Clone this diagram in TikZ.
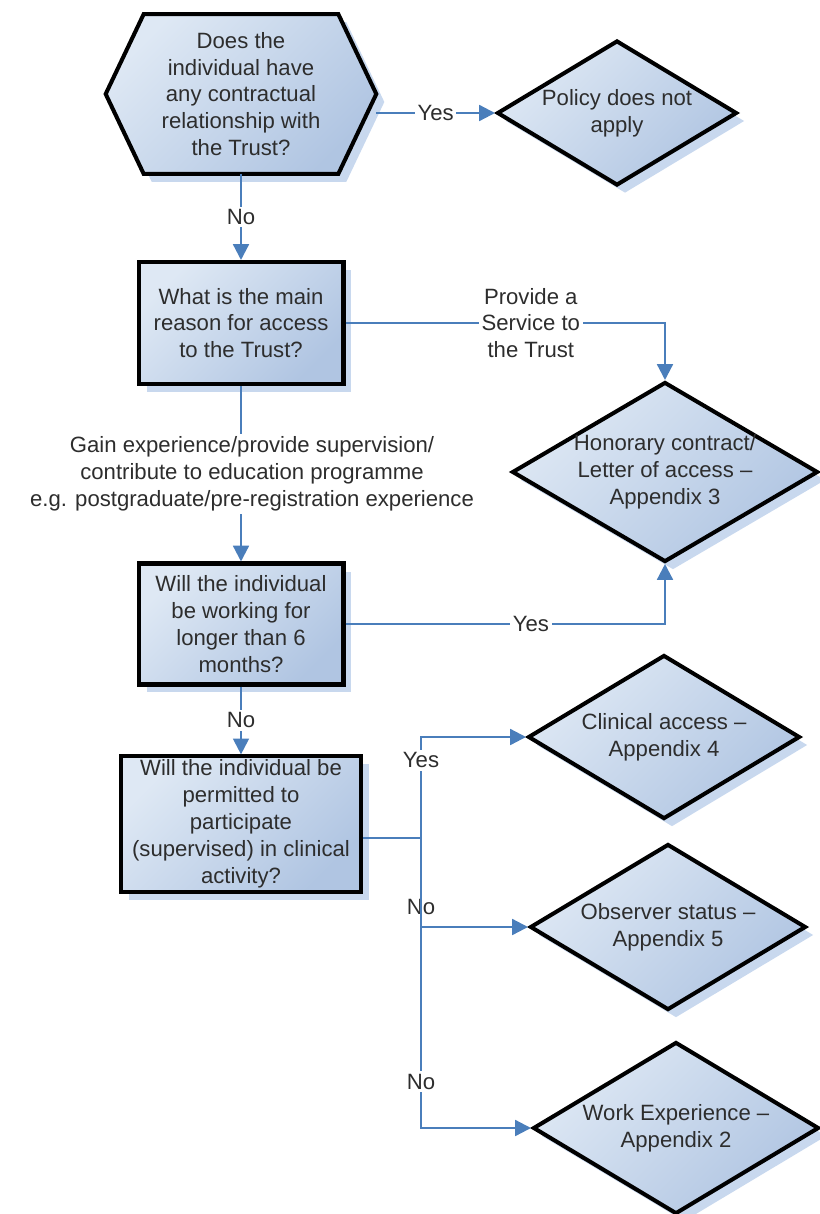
\documentclass[tikz,border=0pt]{standalone}
\usepackage{fontspec}
\setmainfont{Liberation Sans}
\usetikzlibrary{arrows.meta,shapes.geometric,shadows,backgrounds}

\definecolor{flowlight}{RGB}{222,232,244}
\definecolor{flowdark}{RGB}{176,197,226}
\definecolor{shadowblue}{RGB}{200,216,238}
\definecolor{linkblue}{RGB}{74,126,187}
\definecolor{textgray}{RGB}{45,45,45}

\begin{document}
\begin{tikzpicture}[x=0.02cm, y=-0.02cm,
		font=\fontsize{12.6}{15.3}\selectfont, text=textgray,
		boxline/.style={draw=black, line width=2.3pt, line join=miter},
		shade/.style={left color=flowlight, right color=flowdark, shading angle=45},
		shade drop/.style={drop shadow={shadow xshift=0.16cm, shadow yshift=-0.16cm, fill=shadowblue, opacity=1}},
		question/.style={rectangle, boxline, shade, shade drop, align=center, inner sep=2pt},
		outcome/.style={diamond, boxline, shade, shade drop, inner sep=0pt},
		said/.style={align=center, text=textgray},
		link/.style={draw=linkblue, line width=1.3pt},
		arrow/.style={link, -{Triangle[length=9pt,width=9pt]}},
		answer/.style={fill=white, inner sep=1.5pt, align=center}]
		
		\useasboundingbox (0,0) rectangle (819,1214);
		
		% 1. Contract question (hexagon, drawn behind its text)
		\node[align=center, minimum width=5.4cm, minimum height=3.18cm] (hex) at (241,94)
			{Does the\\individual have\\any contractual\\relationship with\\the Trust?};
		\begin{pgfonlayer}{background}
			\begin{scope}[transform canvas={xshift=0.16cm, yshift=-0.16cm}]
				\fill[shadowblue] (hex.west) -- ([xshift=0.76cm]hex.north west) -- ([xshift=-0.76cm]hex.north east)
					-- (hex.east) -- ([xshift=-0.76cm]hex.south east) -- ([xshift=0.76cm]hex.south west) -- cycle;
			\end{scope}
			\draw[boxline, shade] (hex.west) -- ([xshift=0.76cm]hex.north west) -- ([xshift=-0.76cm]hex.north east)
				-- (hex.east) -- ([xshift=-0.76cm]hex.south east) -- ([xshift=0.76cm]hex.south west) -- cycle;
		\end{pgfonlayer}
		
		% 2. Questions (boxes)
		\node[question, minimum width=4.1cm, minimum height=2.44cm] (reason) at (241,323)
			{What is the main\\reason for access\\to the Trust?};
		\node[question, minimum width=4.1cm, minimum height=2.42cm] (months) at (241,624)
			{Will the individual\\be working for\\longer than 6\\months?};
		\node[question, minimum width=4.8cm, minimum height=2.44cm] (clin) at (241,824)
			{Will the individual be\\permitted to\\participate\\(supervised) in clinical\\activity?};
		
		% 3. Outcomes (diamonds, text as centre label)
		\node[outcome, minimum width=4.8cm, minimum height=2.9cm,
			label={[said]center:Policy does not\\apply}] (policy) at (617,113) {};
		\node[outcome, minimum width=6.12cm, minimum height=3.6cm,
			label={[said]center:Honorary contract/\\Letter of access --\\Appendix 3}] (honor) at (665,472) {};
		\node[outcome, minimum width=5.44cm, minimum height=3.28cm,
			label={[said]center:Clinical access --\\Appendix 4}] (access) at (664,737) {};
		\node[outcome, minimum width=5.52cm, minimum height=3.32cm,
			label={[said]center:Observer status --\\Appendix 5}] (observer) at (668,927) {};
		\node[outcome, minimum width=5.72cm, minimum height=3.44cm,
			label={[said]center:Work Experience --\\Appendix 2}] (work) at (676,1128) {};
		
		% 4. Connectors
		\coordinate (split) at (421,838);
		\draw[arrow] (policy.west -| hex.east) -- node[answer] {Yes} (policy.west);
		\draw[arrow] (hex.south) -- node[answer] {No} (reason.north);
		\draw[arrow] (reason.east) -| node[answer, pos=0.29] {Provide a\\Service to\\the Trust} (honor.north);
		\draw[arrow] (reason.south) -- node[answer, xshift=0.22cm]
			{Gain experience/provide supervision/\\contribute to education programme\\e.g. postgraduate/pre-registration experience} (months.north);
		\draw[arrow] (months.east) -| node[answer, pos=0.29] {Yes} (honor.south);
		\draw[arrow] (months.south) -- node[answer] {No} (clin.north);
		\draw[link] (clin.east |- split) -- (split);
		\draw[arrow] (split) |- node[answer, pos=0.385] {Yes} (access.west);
		\draw[arrow] (split) |- node[answer, pos=0.39] {No} (observer.west);
		\draw[arrow] (split) |- node[answer, pos=0.42] {No} (work.west);
		
	\end{tikzpicture}
\end{document}
